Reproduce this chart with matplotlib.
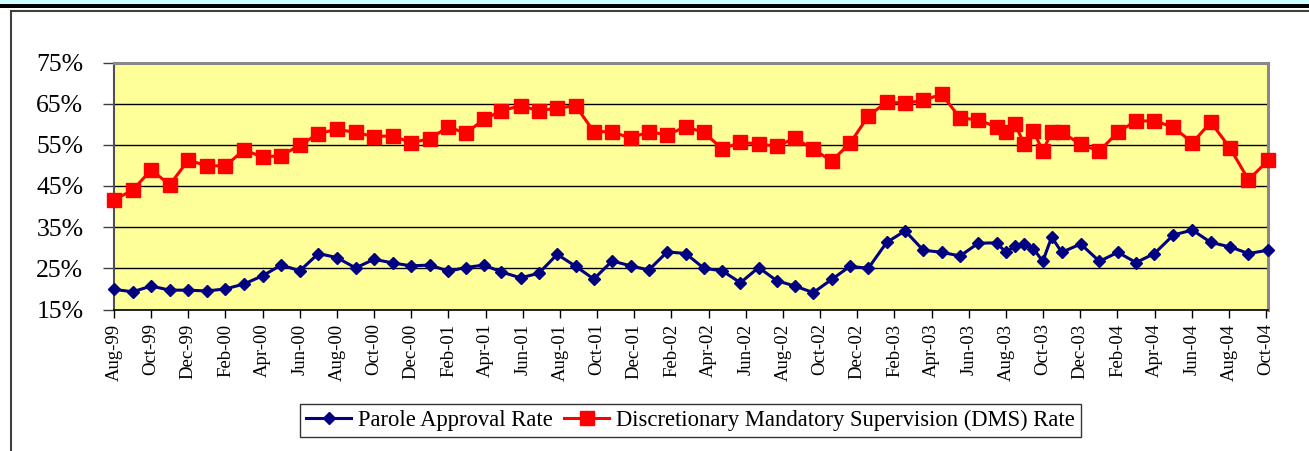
import numpy as np
import pandas as pd
import matplotlib
matplotlib.use("Agg")
import matplotlib.pyplot as plt
from matplotlib.lines import Line2D
from matplotlib.patches import Rectangle

plt.rcParams['font.family'] = ['Liberation Serif', 'DejaVu Serif']

# months since Aug-99 for each report
months = [0, 1, 2, 3, 4, 5, 6, 7, 8, 9, 10, 11, 12, 13, 14, 15, 16, 17, 18,
          18.92, 19.92, 20.85, 21.88, 22.86, 23.85, 24.84, 25.82, 26.81, 27.8,
          28.78, 29.77, 30.76, 31.75, 32.73, 33.71, 34.69, 35.66, 36.64, 37.63,
          38.62, 39.61, 40.59, 41.58, 42.57, 43.55, 44.54, 45.53, 46.51, 47.5,
          47.99, 48.49, 48.99, 49.47, 49.98, 50.46, 51.0, 52.02, 53.03, 54.02,
          55.0, 55.99, 57.01, 58.03, 59.02, 60.06, 61.05, 62.1]

parole = [19.9, 19.3, 20.7, 19.7, 19.7, 19.5, 20.0, 21.2, 23.2, 25.8, 24.4,
          28.6, 27.6, 25.1, 27.2, 26.3, 25.6, 25.8, 24.3, 25.2, 25.8, 24.1,
          22.7, 23.8, 28.4, 25.5, 22.4, 26.8, 25.6, 24.6, 29.0, 28.6, 25.0,
          24.4, 21.5, 25.2, 22.0, 20.7, 19.1, 22.3, 25.5, 25.0, 31.3, 34.1,
          29.4, 28.9, 28.0, 31.1, 31.2, 28.9, 30.4, 31.0, 29.8, 26.7, 32.6,
          28.9, 30.9, 26.7, 28.9, 26.4, 28.6, 33.1, 34.3, 31.3, 30.2, 28.6,
          29.4]

dms = [41.6, 44.0, 48.9, 45.3, 51.3, 49.9, 49.9, 53.8, 52.0, 52.4, 54.9,
       57.7, 58.8, 58.0, 57.0, 57.2, 55.5, 56.5, 59.4, 57.8, 61.2, 63.3,
       64.5, 63.3, 63.9, 64.5, 58.2, 58.2, 56.6, 58.2, 57.4, 59.4, 58.0,
       54.0, 55.6, 55.2, 54.7, 56.6, 53.9, 51.1, 55.4, 62.0, 65.4, 65.1,
       65.8, 67.3, 61.5, 61.1, 59.3, 58.2, 60.0, 55.1, 58.4, 53.5, 58.1,
       58.1, 55.1, 53.5, 58.1, 60.8, 60.8, 59.3, 55.5, 60.5, 54.2, 46.5,
       51.2]

tick_months = list(range(0, 63, 2))
tick_labels = list(pd.date_range('1999-08-01', periods=len(tick_months),
                                 freq='2MS').strftime('%b-%y'))
y_ticks = [15, 25, 35, 45, 55, 65, 75]

W, H = 1309, 451
fig = plt.figure(figsize=(W / 100, H / 100), dpi=100)

# frame decorations around the chart
fig.patches.append(Rectangle((0, 1 - 4 / H), 1, 4 / H, transform=fig.transFigure,
                             facecolor='#ccffff', edgecolor='none'))
fig.patches.append(Rectangle((0, 1 - 7.5 / H), 1, 3.5 / H, transform=fig.transFigure,
                             facecolor='black', edgecolor='none'))
fig.lines.append(Line2D([10.5 / W, 1], [1 - 10.5 / H, 1 - 10.5 / H],
                        transform=fig.transFigure, color='#404040', lw=1.5))
fig.lines.append(Line2D([10.5 / W, 10.5 / W], [0, 1 - 10.5 / H],
                        transform=fig.transFigure, color='#404040', lw=1.5))

ax = fig.add_axes([114 / W, 1 - 309.5 / H, (1268 - 114) / W, (309.5 - 62.5) / H])
ax.set_facecolor('#ffff99')

ax.plot(months, parole, color='#000080', lw=2.2, marker='D', ms=6.6,
        label='Parole Approval Rate', clip_on=False, zorder=4)
ax.plot(months, dms, color='#ff0000', lw=2.2, marker='s', ms=9.5,
        label='Discretionary Mandatory Supervision (DMS) Rate', clip_on=False, zorder=4)

ax.set_xlim(0, 62.1)
ax.set_ylim(15, 75)
ax.set_yticks(y_ticks)
ax.set_yticklabels([f'{v}%' for v in y_ticks], fontsize=18.5)
ax.set_xticks(tick_months)
ax.set_xticklabels(tick_labels, rotation=90, fontsize=13.5)
ax.tick_params(axis='y', length=8, width=1, pad=14, color='#404040')
ax.tick_params(axis='x', length=6, width=1, pad=4, color='black')
ax.yaxis.grid(True, color='black', lw=1)
ax.set_axisbelow(True)

ax.spines['left'].set_color('#505050')
ax.spines['left'].set_linewidth(1.5)
ax.spines['bottom'].set_color('black')
ax.spines['bottom'].set_linewidth(1.2)
for s in ['top', 'right']:
    ax.spines[s].set_color('#888888')
    ax.spines[s].set_linewidth(2.2)

leg = fig.legend(loc='center', bbox_to_anchor=(690.5 / W, 1 - 420.5 / H), ncol=2,
                 fontsize=16.3, frameon=True, fancybox=False, edgecolor='black',
                 handlelength=2.0, handletextpad=0.3, columnspacing=0.5,
                 borderpad=0.25)
leg.get_frame().set_linewidth(1.0)

fig.savefig('out.png', dpi=100)
